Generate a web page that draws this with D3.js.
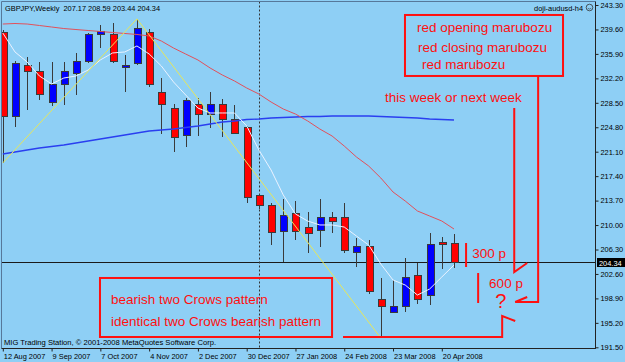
<!DOCTYPE html>
<html><head><meta charset="utf-8">
<script src="https://cdn.jsdelivr.net/npm/d3@7/dist/d3.min.js"></script>
<style>
html,body{margin:0;padding:0;background:#8ecff5;overflow:hidden;}
svg{display:block;}
text{font-family:"Liberation Sans",Arial,sans-serif;}
</style>
</head><body>
<svg id="c" width="625" height="362"></svg>
<script>
// ---------------- DATA ----------------
const dates = ["12 Aug 2007","19 Aug 2007","26 Aug 2007","2 Sep 2007","9 Sep 2007","16 Sep 2007","23 Sep 2007","30 Sep 2007","7 Oct 2007","14 Oct 2007","21 Oct 2007","28 Oct 2007","4 Nov 2007","11 Nov 2007","18 Nov 2007","25 Nov 2007","2 Dec 2007","9 Dec 2007","16 Dec 2007","23 Dec 2007","30 Dec 2007","6 Jan 2008","13 Jan 2008","20 Jan 2008","27 Jan 2008","3 Feb 2008","10 Feb 2008","17 Feb 2008","24 Feb 2008","2 Mar 2008","9 Mar 2008","16 Mar 2008","23 Mar 2008","30 Mar 2008","6 Apr 2008","13 Apr 2008","20 Apr 2008","27 Apr 2008"];
const openP  = [239.2,226.5,234.2,233.3,228.6,231.3,233.0,234.7,238.9,238.9,233.8,234.4,239.2,230.0,227.6,223.5,228.2,226.8,228.3,225.9,224.8,214.4,213.0,209.0,211.8,209.6,209.1,211.1,211.2,205.8,206.7,198.8,196.8,197.7,202.4,199.3,207.4,207.17];
const highP  = [239.5,234.8,235.4,234.7,234.7,234.7,236.0,239.1,240.3,240.6,235.7,241.2,239.6,232.3,228.3,229.2,229.2,230.1,229.1,228.2,225.0,214.7,213.3,213.9,213.6,212.0,213.9,212.0,213.3,208.0,207.7,202.0,201.7,205.0,204.3,208.8,208.2,208.59];
const lowP   = [219.4,224.8,227.4,228.9,228.0,228.2,229.7,234.5,236.8,234.5,230.1,234.2,230.9,223.8,221.1,221.8,223.5,224.7,223.3,223.8,213.3,212.4,207.0,204.4,207.8,205.8,206.7,208.8,205.8,203.6,199.6,192.9,196.7,196.8,198.1,197.9,203.4,203.44];
const closeP = [226.5,234.4,233.3,229.8,231.3,233.2,234.8,238.8,239.3,234.7,234.2,239.8,231.2,228.2,223.3,228.8,226.7,228.3,226.0,223.9,214.2,212.9,208.8,211.5,209.0,208.7,211.2,210.6,206.1,206.7,199.9,197.6,197.7,202.1,198.7,207.0,207.0,204.34];
const maFast = [239.06,236.19,234.67,232.56,231.35,232.25,232.56,233.46,234.98,236.04,236.19,237.10,235.89,234.07,231.65,229.68,227.71,226.96,226.96,226.96,225.0,221.36,218.33,214.55,211.67,210.61,210.01,210.01,209.70,208.34,206.98,204.10,201.68,200.92,199.41,200.32,202.14,203.95];
const maMid  = [240.42,240.5,240.42,240.2,239.97,239.74,239.59,239.44,239.29,239.14,238.99,238.84,238.61,237.85,236.79,235.88,234.98,233.77,232.71,231.8,230.74,229.83,228.62,227.56,226.80,225.75,224.53,223.48,221.96,220.30,218.94,217.12,215.00,213.64,212.13,211.37,210.61,209.40];
const maSlow = [220.75,221.05,221.36,221.66,221.89,222.11,222.42,222.72,223.02,223.32,223.63,223.93,224.23,224.38,224.53,224.76,224.99,225.29,225.59,225.75,225.97,226.05,226.20,226.28,226.35,226.43,226.43,226.50,226.50,226.50,226.50,226.43,226.35,226.28,226.20,226.05,225.97,225.90];
const zigzagDates  = ["12 Aug 2007","28 Oct 2007","16 Mar 2008"];
const zigzagPrices = [219.4,241.2,192.9];
const priceTicks = [243.30,239.60,235.90,232.20,228.50,224.80,221.10,217.40,213.70,210.00,206.30,202.60,198.90,195.20,191.50];
const dateTicks = ["12 Aug 2007","9 Sep 2007","7 Oct 2007","4 Nov 2007","2 Dec 2007","30 Dec 2007","27 Jan 2008","24 Feb 2008","23 Mar 2008","20 Apr 2008"];
const separatorDate = "6 Jan 2008";
const lastPrice = 204.34;
const titleText = "GBPJPY,Weekly  207.17 208.59 203.44 204.34";
const indicatorName = "doji-audusd-h4";
const copyrightText = "MIG Trading Station, \u00A9 2001-2008 MetaQuotes Software Corp.";

// annotations anchored in (bar index, price) space
const boxTop = {i0:32.98, i1:45.94, p0:241.79, p1:232.56};
const boxTopLines = [
  {text:"red opening marubozu", i:33.97, p:239.17},
  {text:"red closing marubozu", i:34.05, p:236.23},
  {text:"red marubozu",         i:34.38, p:233.57}
];
const boxBottom = {i0:7.97, i1:27.0, p0:201.99, p1:193.06};
const boxBottomLines = [
  {text:"bearish two Crows pattern",           i:8.87, p:198.05},
  {text:"identical two Crows bearish pattern", i:8.87, p:194.77}
];
const freeTexts = [
  {text:"this week or next week", i:31.35, p:228.58, size:13.5},
  {text:"300 p", i:38.49, p:204.97, size:13.5},
  {text:"600 p", i:39.88, p:200.43, size:13.5},
  {text:"?",     i:40.38, p:197.40, size:20}
];
const annoPaths = [
  [[43.9,232.56],[43.9,198.36],[42.02,198.36]],
  [[42.02,198.36],[43.0,199.11]],
  [[41.94,227.71],[41.94,202.89],[43.0,204.26]],
  [[27.9,193.06],[40.95,193.06],[40.95,196.24],[42.02,195.48]],
  [[37.99,207.28],[37.99,203.65]],
  [[38.98,202.74],[38.98,198.2]]
];

// ---------------- DRAW ----------------
const svg = d3.select("#c");
const W = 625, H = 362;
const plotL = 1.5, plotR = 595.5, plotT = 1.5, plotB = 348.5;
const x = d3.scaleLinear().domain([0, dates.length - 1]).range([2.8, 454]);
const y = d3.scaleLinear().domain([191.5, 243.3]).range([347.3, 5]);
const xi = d => x(dates.indexOf(d));
const RED = "#ff1010";
const SMALL = 7.4;

svg.append("rect").attr("width", W).attr("height", H).attr("fill", "#8ecff5");

svg.append("defs").append("clipPath").attr("id","pc")
  .append("rect").attr("x", plotL).attr("y", plotT).attr("width", plotR-plotL).attr("height", plotB-plotT);
const g = svg.append("g").attr("clip-path","url(#pc)");

// last price line
g.append("line").attr("x1", plotL).attr("x2", plotR)
  .attr("y1", Math.round(y(lastPrice))+0.5).attr("y2", Math.round(y(lastPrice))+0.5)
  .attr("stroke", "#1a1a1a").attr("stroke-width", 1);

// period separator
g.append("line").attr("x1", Math.round(xi(separatorDate))+0.5).attr("x2", Math.round(xi(separatorDate))+0.5)
  .attr("y1", plotT).attr("y2", plotB)
  .attr("stroke", "#333").attr("stroke-width", 1).attr("stroke-dasharray", "2,2");

// candles
const idx = d3.range(dates.length);
const cg = g.append("g").attr("shape-rendering","crispEdges");
cg.selectAll("line.w").data(idx).join("line").attr("class","w")
  .attr("x1", i => Math.round(x(i))+0.5).attr("x2", i => Math.round(x(i))+0.5)
  .attr("y1", i => y(highP[i])).attr("y2", i => y(lowP[i]))
  .attr("stroke", "#3a3a3a").attr("stroke-width", 1);
cg.selectAll("rect.b").data(idx).join("rect").attr("class","b")
  .attr("x", i => Math.round(x(i)) - 3)
  .attr("width", 7)
  .attr("y", i => y(Math.max(openP[i], closeP[i])))
  .attr("height", i => Math.max(1, Math.abs(y(openP[i]) - y(closeP[i]))))
  .attr("fill", i => closeP[i] >= openP[i] ? "#0000ff" : "#ff0000")
  .attr("stroke", "#3a3a3a").attr("stroke-width", 1);

// moving averages
const lineGen = arr => d3.line().x((d,i) => x(i)).y(d => y(d))(arr);
g.append("path").attr("d", lineGen(maSlow)).attr("fill","none").attr("stroke","#2a3ff0").attr("stroke-width",1.4);
g.append("path").attr("d", lineGen(maMid)).attr("fill","none").attr("stroke","#e2505a").attr("stroke-width",1);
g.append("path").attr("d", lineGen(maFast)).attr("fill","none").attr("stroke","#eaf2ff").attr("stroke-width",1);

// zigzag
g.append("path").attr("d", d3.line()(zigzagDates.map((d,k) => [xi(d), y(zigzagPrices[k])])))
  .attr("fill","none").attr("stroke","#e6e65a").attr("stroke-width",1);

// annotations
const ag = svg.append("g");
[boxTop, boxBottom].forEach(b => {
  ag.append("rect").attr("x", x(b.i0)).attr("y", y(b.p0))
    .attr("width", x(b.i1) - x(b.i0)).attr("height", y(b.p1) - y(b.p0))
    .attr("fill","none").attr("stroke", RED).attr("stroke-width", 2);
});
boxTopLines.concat(boxBottomLines).forEach(t => {
  ag.append("text").attr("x", x(t.i)).attr("y", y(t.p)).text(t.text)
    .attr("fill", RED).attr("font-size", 13.5);
});
freeTexts.forEach(t => {
  ag.append("text").attr("x", x(t.i)).attr("y", y(t.p)).text(t.text)
    .attr("fill", RED).attr("font-size", t.size);
});
annoPaths.forEach(p => {
  ag.append("path").attr("d", d3.line()(p.map(q => [x(q[0]), y(q[1])])))
    .attr("fill","none").attr("stroke", RED).attr("stroke-width", 2);
});

// frame
svg.append("line").attr("x1",plotL).attr("x2",plotL).attr("y1",plotT).attr("y2",plotB).attr("stroke","#56789a");
svg.append("line").attr("x1",plotL).attr("x2",plotR).attr("y1",plotT).attr("y2",plotT).attr("stroke","#56789a");

// y axis
const yAxis = d3.axisRight(y).tickValues(priceTicks).tickFormat(d3.format(".2f")).tickSize(3).tickPadding(2);
const yg = svg.append("g").attr("transform", `translate(${plotR},0)`).call(yAxis);
yg.select(".domain").remove();
yg.selectAll("line").attr("stroke","#222");
yg.selectAll("text").attr("font-size", SMALL).attr("fill","#000").attr("font-family",'"Liberation Sans",Arial,sans-serif');
svg.append("line").attr("x1",plotR).attr("x2",plotR).attr("y1",plotT).attr("y2",plotB+0.5).attr("stroke","#222");

// x axis
const xAxis = d3.axisBottom(x).tickValues(dateTicks.map(d => dates.indexOf(d)))
  .tickFormat(i => dates[i]).tickSize(3).tickPadding(2);
const xg = svg.append("g").attr("transform", `translate(0,${plotB})`).call(xAxis);
xg.select(".domain").remove();
xg.selectAll("line").attr("stroke","#222");
xg.selectAll("text").attr("font-size", SMALL).attr("fill","#000").attr("text-anchor","start").attr("dx", 0.5)
  .attr("font-family",'"Liberation Sans",Arial,sans-serif');
svg.append("line").attr("x1",plotL).attr("x2",plotR).attr("y1",plotB).attr("y2",plotB).attr("stroke","#222");

// last price label
const ly = Math.round(y(lastPrice));
svg.append("rect").attr("x", 597).attr("y", ly - 4).attr("width", 28).attr("height", 9).attr("fill", "#000");
svg.append("text").attr("x", 599).attr("y", ly + 3.5).text(d3.format(".2f")(lastPrice))
  .attr("fill","#fff").attr("font-size", SMALL);

// header texts
svg.append("text").attr("x", 5).attr("y", 10.5).text(titleText).attr("font-size", SMALL).attr("fill","#000")
  .style("white-space","pre");
svg.append("text").attr("x", 583).attr("y", 10.5).text(indicatorName).attr("font-size", SMALL).attr("fill","#000")
  .attr("text-anchor","end");
svg.append("circle").attr("cx", 589.5).attr("cy", 7.5).attr("r", 3.3).attr("fill","none").attr("stroke","#333").attr("stroke-width",0.8);
svg.append("path").attr("d","M587.8,8.2 Q589.5,10 591.2,8.2").attr("fill","none").attr("stroke","#333").attr("stroke-width",0.6);
svg.append("text").attr("x", 4).attr("y", 345).text(copyrightText).attr("font-size", 7.6).attr("fill","#000");
</script>
</body></html>
